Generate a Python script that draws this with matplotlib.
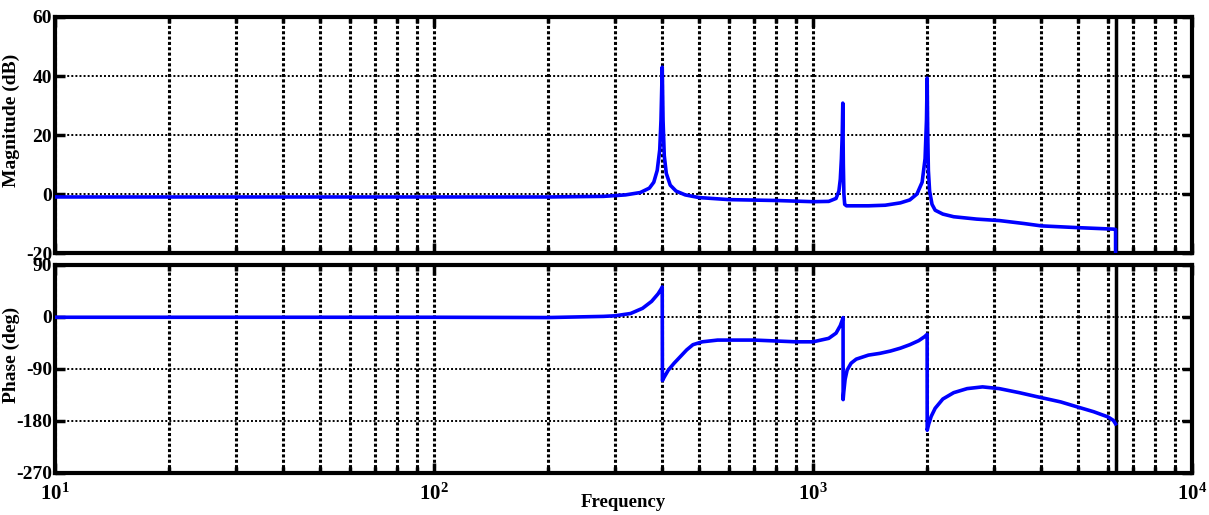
import numpy as np
import matplotlib
matplotlib.use("Agg")
import matplotlib.pyplot as plt
from matplotlib.ticker import FixedLocator, FixedFormatter, LogLocator, NullFormatter

plt.rcParams["font.family"] = ["Liberation Serif", "DejaVu Serif"]
plt.rcParams["font.weight"] = "bold"
plt.rcParams["axes.unicode_minus"] = False
plt.rcParams["mathtext.fontset"] = "custom"
plt.rcParams["mathtext.rm"] = "Liberation Serif:bold"
plt.rcParams["mathtext.bf"] = "Liberation Serif:bold"
plt.rcParams["mathtext.it"] = "Liberation Serif:bold"

# ── 数据─────────────────────────────────────────────────────
mag_freq = [10, 50, 100, 200, 280, 320, 350, 370, 380, 388, 394, 397, 400,
            402, 405, 410, 420, 435, 460, 500, 600, 800, 1000, 1100, 1150,
            1170, 1180, 1188, 1194, 1198, 1202, 1206, 1212, 1225, 1400, 1550,
            1700, 1800, 1880, 1940, 1975, 1992, 2000, 2006, 2015, 2030, 2060,
            2100, 2200, 2350, 2700, 3100, 3600, 4000, 5000, 6200, 6283, 6283]
mag_db = [-1, -1, -1, -1, -0.8, -0.3, 0.5, 2, 4, 8, 15, 25, 43,
          25, 13, 7, 3, 1, -0.3, -1.2, -1.9, -2.2, -2.6, -2.5, -1.5,
          1, 5, 12, 20, 30.8, 10, 0, -3.5, -4, -4, -3.8,
          -3, -2, 0, 4, 12, 25, 39.3, 22, 8, 1, -3.5,
          -5.5, -6.8, -7.7, -8.5, -9, -10, -10.8, -11.4, -11.9, -12, -40]

ph_freq = [10, 100, 200, 280, 300, 330, 355, 375, 390, 397, 400, 400.5, 405,
           415, 430, 446, 464, 482, 510, 560, 700, 900, 1000, 1100, 1150,
           1180, 1195, 1200, 1200.5, 1205, 1215, 1230, 1260, 1300, 1400, 1500,
           1600, 1700, 1800, 1900, 1970, 2000, 2000.5, 2020, 2050, 2100, 2200,
           2350, 2550, 2800, 3100, 3500, 3900, 4500, 5000, 5500, 6000, 6200, 6283]
ph_deg = [-0.5, -0.5, -1, 1, 2, 6, 15, 27, 40, 48, 52, -110, -104,
          -92, -80, -69, -57, -48, -43, -40, -40, -43, -43, -37, -28,
          -15, -5, -1, -143, -130, -108, -92, -80, -73, -66, -63,
          -59, -54, -48, -41, -34, -30, -196, -185, -172, -158, -142,
          -131, -124, -121, -124, -131, -138, -147, -156, -164, -173, -179, -185]

nyquist = 6283
xticks = [10, 100, 1000, 10000]
xticklabels = [r"$\mathbf{10^{1}}$", r"$\mathbf{10^{2}}$", r"$\mathbf{10^{3}}$", r"$\mathbf{10^{4}}$"]
mag_ticks = [-20, 0, 20, 40, 60]
ph_ticks = [-270, -180, -90, 0, 90]

fig = plt.figure(figsize=(12.09, 5.15), dpi=100)
ax1 = fig.add_axes([0.0455, 0.5087, 0.9405, 0.4583])
ax2 = fig.add_axes([0.0455, 0.0816, 0.9405, 0.4039])


def style_axis(ax, yticks, ylim):
    ax.set_xscale("log")
    ax.set_xlim(10, 1e4)
    ax.set_ylim(*ylim)
    ax.xaxis.set_major_locator(FixedLocator(xticks))
    ax.xaxis.set_minor_locator(LogLocator(base=10, subs=np.arange(2, 10)))
    ax.xaxis.set_minor_formatter(NullFormatter())
    ax.yaxis.set_major_locator(FixedLocator(yticks))
    for s in ax.spines.values():
        s.set_linewidth(3)
    ax.tick_params(axis="both", which="both", direction="in", top=True, right=True,
                   labelsize=14, width=2.5, pad=2)
    ax.tick_params(axis="both", which="major", length=7)
    ax.tick_params(axis="x", which="minor", length=4)
    ax.grid(True, axis="x", which="both", color="k", lw=2.2, linestyle=(0, (1.0, 0.75)))
    ax.grid(True, axis="y", which="major", color="k", lw=1.4, linestyle=(0, (1.0, 1.1)))
    ax.axvline(nyquist, color="k", lw=2.5, zorder=3)


style_axis(ax1, mag_ticks, (-20, 60))
style_axis(ax2, ph_ticks, (-270, 90))

ax1.plot(mag_freq, mag_db, color="#0000ff", lw=2.6, zorder=4)
ax2.plot(ph_freq, ph_deg, color="#0000ff", lw=2.6, zorder=4)

ax1.xaxis.set_major_formatter(NullFormatter())
ax2.xaxis.set_major_formatter(FixedFormatter(xticklabels))
ax2.tick_params(axis="x", which="major", labelsize=15, pad=8)

ax1.set_ylabel("Magnitude (dB)", fontsize=14, fontweight="bold")
ax2.set_ylabel("Phase (deg)", fontsize=14, fontweight="bold")
ax1.yaxis.set_label_coords(-0.031, 0.56)
ax2.yaxis.set_label_coords(-0.031, 0.567)
ax2.set_xlabel("Frequency", fontsize=13.5, fontweight="bold")
ax2.xaxis.set_label_coords(0.5, -0.10)

fig.savefig("out.png", dpi=100)
